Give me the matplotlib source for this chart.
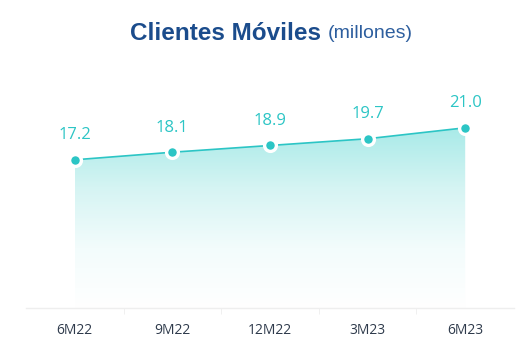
import matplotlib
matplotlib.use("Agg")
import matplotlib.pyplot as plt
import numpy as np
from matplotlib.colors import LinearSegmentedColormap

categories = ["6M22", "9M22", "12M22", "3M23", "6M23"]
values = [17.2, 18.1, 18.9, 19.7, 21.0]
labels = ["17.2", "18.1", "18.9", "19.7", "21.0"]

W, H = 527, 354
fig = plt.figure(figsize=(W / 100, H / 100), dpi=100)
ax = fig.add_axes([26 / W, (H - 308) / H, 488 / W, (308 - 52) / H])

x = np.arange(len(categories))
teal = "#2CC5C5"
ax.set_xlim(-0.5, len(categories) - 0.5)
ax.set_ylim(-0.4, 30.0)

# gradient fill under the line
poly = ax.fill_between(x, values, -0.4, color="none", lw=0)
grad = np.linspace(0, 1, 256).reshape(-1, 1)
cmap = LinearSegmentedColormap.from_list("g", ["#FFFFFF", "#F3FCFC", "#D5F4F3", "#A8EAE8"])
im = ax.imshow(grad, cmap=cmap, aspect="auto", origin="lower",
               extent=[x[0], x[-1], -0.4, max(values)], zorder=1)
path = poly.get_paths()[0]
im.set_clip_path(path, transform=ax.transData)

ax.plot(x, values, color=teal, lw=1.2, zorder=3)
ax.plot(x, values, "o", ms=8.5, mfc=teal, mec="white", mew=2.4, zorder=4)

for xi, v, lab in zip(x, values, labels):
    ax.annotate(lab, (xi, v), xytext=(0, 12), textcoords="offset points",
                ha="center", va="bottom", color="#2CC5C5", fontsize=12,
                family="Open Sans")

for s in ["top", "right", "left"]:
    ax.spines[s].set_visible(False)
ax.spines["bottom"].set_color("#EEEEEE")
ax.spines["bottom"].set_linewidth(1)
ax.set_yticks([])
ax.set_xticks(x)
ax.set_xticklabels(categories, fontsize=10, color="#2F3B4C", family="Open Sans")
ax.set_xticks(np.arange(0.5, len(categories) - 0.5, 1), minor=True)
ax.tick_params(axis="x", which="major", length=0, pad=11)
ax.tick_params(axis="x", which="minor", length=4, color="#EEEEEE")
ax.set_xlim(-0.5, len(categories) - 0.5)

fig.text(321 / W, 1 - 33 / H, "Clientes Móviles", ha="right", va="center",
         fontsize=17.5, fontweight="bold", color="#1B4C8C", family="Liberation Sans")
fig.text(328 / W, 1 - 34 / H, "(millones)", ha="left", va="center",
         fontsize=14, color="#2D5E9E", family="Liberation Sans")

fig.savefig("out.png", dpi=100)
